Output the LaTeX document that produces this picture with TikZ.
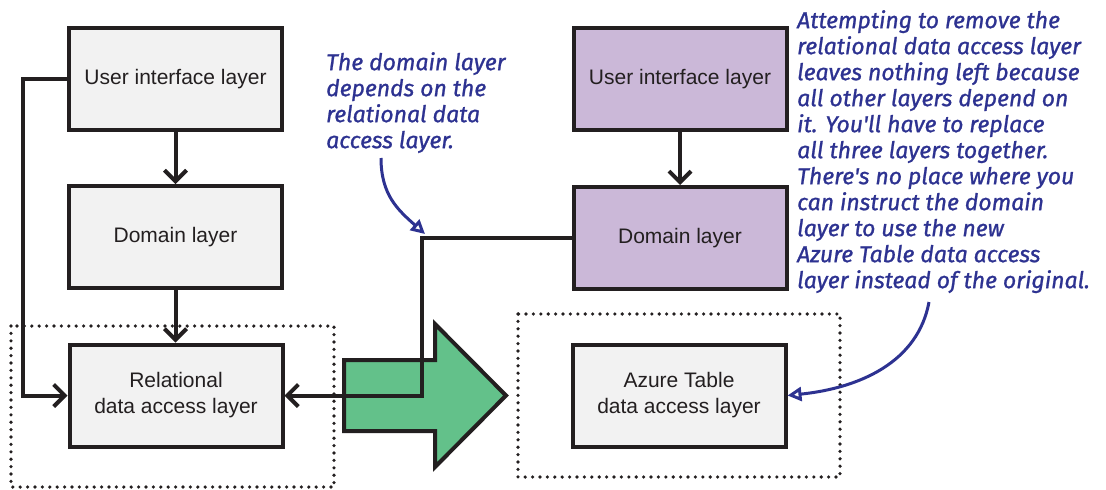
\documentclass[tikz,border=0pt]{standalone}
\usepackage{fontspec}
\setmainfont{Liberation Sans}
\newfontfamily\handfont[FakeBold=1]{Fira Sans}
\usetikzlibrary{arrows.meta}
\definecolor{boxline}{RGB}{35,31,32}
\definecolor{grayfill}{RGB}{242,242,242}
\definecolor{purplefill}{RGB}{203,184,216}
\definecolor{greenfill}{RGB}{99,193,138}
\definecolor{noteblue}{RGB}{45,50,145}
\definecolor{textgray}{RGB}{35,31,32}
\begin{document}
\begin{tikzpicture}[x=1pt,y=-1pt,
  layerbox/.style={draw=boxline, line width=4pt, fill=grayfill, minimum width=213pt, minimum height=102pt, inner sep=0pt, align=center, font=\fontsize{21}{26}\selectfont, text=textgray},
  purplebox/.style={layerbox, fill=purplefill},
  dep/.style={line width=4pt, draw=boxline, -{Straight Barb[length=11pt,width=22pt]}},
  note/.style={font=\handfont\itshape\fontsize{23}{26}\selectfont, text=noteblue, align=left, inner sep=0pt, anchor=north west},
  notearrow/.style={draw=noteblue, line width=3pt, -{Triangle[open,length=14pt,width=14pt]}},
  dotbox/.style={draw=boxline, line width=3.6pt, line cap=round, dash pattern=on 0pt off 7.4pt}]
\useasboundingbox (0,0) rectangle (1106,490);
\fill[white] (0,0) rectangle (1106,490);

% dotted groups
\draw[dotbox] (11,326) rectangle (334,487);
\draw[dotbox] (518,314) rectangle (840,477);

% left stack
\node[layerbox] (ui1) at (175.5,79) {User interface layer};
\node[layerbox] (dom1) at (175.5,237) {Domain layer};
\node[layerbox] (rel1) at (176,395.5) {Relational\\data access layer};

% right stack
\node[purplebox] (ui2) at (680,79) {User interface layer};
\node[purplebox] (dom2) at (680,238) {Domain layer};
\node[layerbox] (azure) at (679,395.5) {Azure Table\\data access layer};

% green arrow
\draw[fill=greenfill, draw=boxline, line width=4pt, line join=miter]
  (344,360) -- (435,360) -- (435,324) -- (506,395.5) -- (435,467) -- (435,431) -- (344,431) -- cycle;

% dependencies
\draw[dep] (ui1.south) -- (dom1.north);
\draw[dep] (dom1.south) -- (dom1.south |- rel1.north);
\draw[dep] (ui1.west) -- ++(-44,0) |- (rel1.west);
\draw[dep] (ui2.south) -- (ui2.south |- dom2.north);
\draw[dep] (dom2.west) -- ++(-150,0) |- (rel1.east);

% notes
\node[note] (note1) at (326,52) {The domain layer\\depends on the\\relational data\\access layer.};
\node[note] (note2) at (797,10) {Attempting to remove the\\relational data access layer\\leaves nothing left because\\all other layers depend on\\it. You'll have to replace\\all three layers together.\\There's no place where you\\can instruct the domain\\layer to use the new\\Azure Table data access\\layer instead of the original.};

\coordinate (n1start) at (381,158);
\coordinate (n1end) at (425,234);
\coordinate (n2start) at (929,302);
\draw[notearrow] (n1start) .. controls (381,195) and (398,210) .. (n1end);
\draw[notearrow] (n2start) .. controls (918,362) and (860,388) .. (azure.east);
\end{tikzpicture}
\end{document}
